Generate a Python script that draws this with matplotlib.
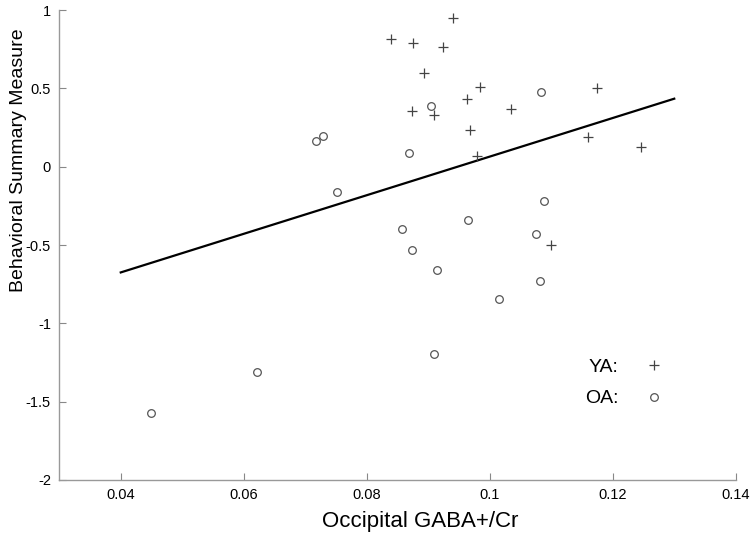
"""Occipital GABA+/Cr vs behavioral summary measure, young (YA) and older (OA) adults."""

import matplotlib
matplotlib.use("Agg")
import matplotlib.pyplot as plt

plt.rcParams["font.family"] = ["Liberation Sans", "DejaVu Sans"]

# Young adults (+)
ya_gaba = [0.0940, 0.0839, 0.0876, 0.0924, 0.0893, 0.0984, 0.0963, 0.0873,
           0.0909, 0.1034, 0.1174, 0.0968, 0.1159, 0.1246, 0.0980, 0.1099]
ya_beh = [0.95, 0.817, 0.792, 0.766, 0.600, 0.511, 0.434, 0.358,
          0.332, 0.370, 0.504, 0.236, 0.190, 0.128, 0.070, -0.500]

# Older adults (o)
oa_gaba = [0.0717, 0.0729, 0.0752, 0.0905, 0.1083, 0.0869, 0.1089, 0.0965, 0.0857,
           0.1076, 0.0873, 0.0914, 0.1081, 0.1015, 0.0909, 0.0621, 0.0449]
oa_beh = [0.162, 0.198, -0.160, 0.390, 0.477, 0.087, -0.217, -0.338, -0.400,
          -0.428, -0.530, -0.658, -0.728, -0.847, -1.196, -1.311, -1.571]

# regression line end points
fit_x = [0.04, 0.13]
fit_y = [-0.675, 0.434]

xticks = [0.04, 0.06, 0.08, 0.1, 0.12, 0.14]
yticks = [-2, -1.5, -1, -0.5, 0, 0.5, 1]

fig = plt.figure(figsize=(7.5, 5.42), dpi=100)
ax = fig.add_axes([0.079, 0.1144, 0.902, 0.8671])

ax.plot(fit_x, fit_y, color="black", linewidth=1.6)
ax.plot(ya_gaba, ya_beh, linestyle="none", marker="+", markersize=7,
        markeredgewidth=0.9, color="#444444", label="YA:")
ax.plot(oa_gaba, oa_beh, linestyle="none", marker="o", markersize=5.5,
        markerfacecolor="none", markeredgewidth=0.9, color="#555555", label="OA:")

ax.set_xlim(0.03, 0.14)
ax.set_ylim(-2, 1)
ax.set_xticks(xticks)
ax.set_xticklabels(["0.04", "0.06", "0.08", "0.1", "0.12", "0.14"])
ax.set_yticks(yticks)
ax.set_yticklabels(["-2", "-1.5", "-1", "-0.5", "0", "0.5", "1"])
ax.tick_params(direction="in", length=5, width=0.8, color="#888888",
               labelsize=10.5, labelcolor="black", pad=6)

for side in ("top", "right"):
    ax.spines[side].set_visible(False)
for side in ("left", "bottom"):
    ax.spines[side].set_color("#999999")
    ax.spines[side].set_linewidth(1.0)

ax.set_xlabel("Occipital GABA+/Cr", fontsize=16)
ax.xaxis.set_label_coords(0.533, -0.065)
ax.set_ylabel("Behavioral Summary Measure", fontsize=14)
ax.yaxis.set_label_coords(-0.047, 0.68)

ax.legend(loc="center", bbox_to_anchor=(0.837, 0.207), frameon=False,
          markerfirst=False, fontsize=14, handlelength=1.2,
          handletextpad=1.2, labelspacing=0.72)

fig.savefig("out.png", dpi=100)
